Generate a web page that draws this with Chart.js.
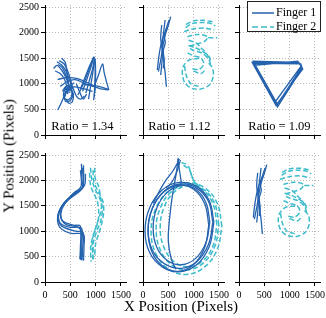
<!DOCTYPE html>
<html>
<head>
<meta charset="utf-8">
<script src="https://cdn.jsdelivr.net/npm/chart.js@4"></script>
<style>
  body { margin: 0; background: #fff; }
  #fig { position: relative; width: 326px; height: 318px; overflow: hidden; font-family: "Liberation Serif", serif; color: #000; }
  #fig canvas { position: absolute; }
  .ratio { position: absolute; top: 120px; font-size: 12.5px; line-height: 13px;
           background: #fff; padding: 0 2px; transform: translateX(-50%); white-space: nowrap; z-index: 5; }
  #legend { position: absolute; left: 247px; top: 1px; width: 72px; height: 29px; border: 1px solid #222;
            background: #fff; z-index: 6; font-size: 12px; }
  #legend .row { position: absolute; left: 4px; height: 14px; line-height: 14px; white-space: nowrap; }
  #legend svg { vertical-align: middle; margin-right: 2px; }
  .title { position: absolute; font-size: 15px; white-space: nowrap; z-index: 5; }
</style>
</head>
<body>
<div id="fig">
  <canvas id="c1"></canvas><canvas id="c2"></canvas><canvas id="c3"></canvas>
  <canvas id="c4"></canvas><canvas id="c5"></canvas><canvas id="c6"></canvas>
  <div id="legend"></div>
  <div class="title" id="ytitle"></div>
  <div class="title" id="xtitle"></div>
</div>
<script>
// axis setup
const xTicks = [0, 500, 1000, 1500];
const yTicks = [0, 500, 1000, 1500, 2000, 2500];
const xMax = 1600, yMax = 2540;
const fingerNames = ["Finger 1", "Finger 2"];
const ratios = ["1.34", "1.12", "1.09"];
const xTitle = "X Position (Pixels)";
const yTitle = "Y Position (Pixels)";

// panel 1 (top left) - finger 1 only
const p1Blue = [
  [[170,1300],[236,1360],[320,1280],[400,1150],[470,980],[500,870]],
  [[236,1433],[328,1367],[413,1253],[479,1087],[525,953]],
  [[282,1453],[380,1387],[459,1220],[512,1053],[540,900]],
  [[330,1500],[400,1420],[433,1220],[459,1020],[479,820]],
  [[200,1250],[300,1200],[380,1100],[430,950],[450,800]],
  [[260,1380],[350,1300],[420,1150],[470,1000]],
  [[249,487],[301,587],[347,687],[393,787],[479,887],[545,820],[512,687],[413,653],[380,753],[446,920],[577,1020]],
  [[347,853],[413,953],[512,940],[525,753],[446,687],[367,753],[393,900],[480,1000]],
  [[420,700],[470,620],[540,650],[560,800],[500,900],[420,850],[400,750]],
  [[249,1087],[446,1120],[643,1100],[840,1020],[972,953]],
  [[300,950],[450,1050],[600,1080],[800,1000],[950,950],[1100,900],[1250,880]],
  [[380,887],[577,940],[774,900],[939,853]],
  [[500,1050],[560,900],[620,760],[700,700],[780,760]],
  [[742,853],[827,1087],[906,1320],[972,1520],[991,1287],[985,1020],[972,753]],
  [[807,820],[873,1053],[939,1287],[985,1487],[1000,1200],[990,900],[960,680]],
  [[650,780],[760,1000],[860,1250],[930,1450],[960,1530]],
  [[860,700],[900,950],[950,1250],[980,1500]],
  [[700,900],[780,1100],[880,1350],[950,1480]],
  [[620,1000],[680,850],[760,700],[820,800]],
  [[972,953],[1050,1153],[1136,1387],[1169,1220],[1221,1020],[1260,880]],
  [[774,987],[1037,953],[1267,887]]
];

// panel 2 (top middle) and panel 6 (bottom right)
const p2Blue = [
  [[548,2311],[502,2148],[449,1986],[396,1758],[356,1497],[303,1237]],
  [[436,2246],[409,2018],[383,1758],[402,1497],[435,1237],[462,944]],
  [[369,2148],[350,1888],[383,1628],[369,1367],[350,1172]],
  [[515,2246],[449,2051],[369,1823],[317,1562],[283,1270]],
  [[480,2100],[420,1950],[440,1800],[400,1650],[420,1450],[400,1300]]
];
const p2Cyan = [
  [[845,2100],[978,2180],[1176,2200],[1341,2180],[1427,2130]],
  [[850,2160],[1000,2230],[1200,2240],[1380,2210]],
  [[812,2020],[978,2070],[1209,2090],[1407,2050]],
  [[878,1921],[1077,1966],[1275,1921],[1209,1823],[1044,1771],[911,1725],[978,1660],[1176,1595],[1308,1465],[1341,1335]],
  [[1110,1497],[911,1465],[792,1335],[779,1172],[832,1009],[964,912],[1143,898],[1308,977],[1387,1140],[1374,1302],[1275,1432]],
  [[900,1850],[1050,1800],[1150,1700],[1250,1600],[1300,1500]],
  [[900,1750],[1050,1700],[1200,1620],[1300,1540],[1350,1420]],
  [[1290,1900],[1470,1900]],
  [[880,1600],[1000,1550],[1150,1500],[1200,1380],[1100,1280],[950,1300]],
  [[820,1350],[860,1150],[950,1000],[1100,950]],
  [[1000,1250],[1150,1200],[1250,1300]]
];

// panel 3 (top right) - triangle
const p3Blue = [
  [[300,1400],[1220,1390],[1240,1330],[760,600],[280,1440],[1180,1420],[1260,1290],[730,580],[260,1420],
   [1200,1400],[1230,1350],[710,640],[300,1360],[1160,1440],[1250,1310],[760,550],[290,1410]]
];

// panel 4 (bottom left)
const p4Blue = [
  [[720,2330],[730,2000],[740,1850],[560,1720],[380,1560],[270,1350],[300,1160],[480,1080],[720,1060],[730,800],[720,430]],
  [[760,2300],[760,1950],[700,1800],[500,1650],[330,1480],[250,1300],[290,1080],[500,960],[760,940],[770,700],[760,420]],
  [[700,2200],[710,1880],[520,1700],[350,1520],[300,1380],[350,1200],[550,1120],[700,1100],[700,700],[690,450]],
  [[800,2130],[780,1900],[620,1760],[420,1600],[300,1430],[260,1250],[330,1100],[600,1000],[750,980],[740,600],[730,430]],
  [[740,2250],[750,1860],[600,1780],[450,1620],[330,1420],[320,1250],[420,1130],[650,1080],[710,1000],[700,440]]
];
const p4Cyan = [
  [[900,2250],[920,2050],[980,1850],[1080,1650],[1130,1450],[1100,1200],[1020,1000],[960,800],[950,600],[940,420]],
  [[950,2200],[960,2000],[1040,1800],[1140,1600],[1160,1400],[1120,1150],[1060,950],[1000,750],[980,500]],
  [[880,2150],[900,1900],[960,1750],[1030,1600],[1060,1400],[1050,1200],[980,1000],[920,800],[900,600],[910,400]],
  [[980,2250],[990,2050],[1060,1880],[1100,1650],[1120,1500],[1080,1300],[1010,1100],[950,900],[930,700],[960,450]]
];

// panel 5 (bottom middle) - ovals
const p5Blue = [
  [[1400,1180],[1309,1600],[1060,1882],[720,1960],[380,1812],[131,1460],[40,1000],[131,580],[380,298],[720,200],[1060,338],[1309,700],[1400,1180]],
  [[1380,1180],[1294,1585],[1060,1849],[740,1930],[420,1789],[186,1455],[100,1030],[186,625],[420,361],[740,270],[1060,401],[1294,745],[1380,1180]],
  [[1300,1120],[1220,1535],[1000,1826],[700,1910],[400,1766],[180,1435],[100,1000],[180,585],[400,304],[700,210],[1000,344],[1220,685],[1300,1120]],
  [[1320,1180],[1245,1560],[1040,1825],[760,1900],[480,1765],[275,1460],[200,1060],[275,680],[480,425],[760,340],[1040,465],[1245,780],[1320,1180]],
  [[720,2420],[600,2200],[450,2000],[330,1800],[200,1550]],
  [[700,2440],[650,2100],[580,1700],[520,1200],[500,800],[560,450],[650,250]],
  [[740,2400],[660,2150],[560,1950],[450,1850]],
  [[690,2430],[720,2200],[760,1950]]
];
const p5Cyan = [
  [[1560,1100],[1466,1550],[1210,1859],[860,1950],[510,1799],[254,1450],[160,1000],[254,560],[510,251],[860,150],[1210,291],[1466,640],[1560,1100]],
  [[1500,1120],[1417,1540],[1190,1827],[880,1920],[570,1787],[343,1460],[260,1040],[343,630],[570,333],[880,240],[1190,373],[1417,700],[1500,1120]],
  [[1460,1130],[1385,1530],[1180,1813],[900,1900],[620,1773],[415,1470],[340,1070],[415,680],[620,397],[900,300],[1180,417],[1385,720],[1460,1130]],
  [[760,2350],[880,2300],[960,2100],[1050,1900]],
  [[800,2300],[920,2200],[1000,2000],[1150,1850]]
];

const BLUE = "#2462ae", CYAN = "#3ebccb";
const YW = 44, PT = 10, PR = 10, XH = 20, PW = 81;
const colLeft = [45, 143, 239];
const rowTop = [5, 153], rowH = [130, 129];

function toPts(stroke) {
  return stroke.map(p => ({ x: p[0], y: p[1] }));
}

function makePanel(id, col, row, blue, cyan, tension) {
  const el = document.getElementById(id);
  const w = YW + PW + PR, h = PT + rowH[row] + XH;
  el.width = w; el.height = h;
  el.style.left = (colLeft[col] - YW) + "px";
  el.style.top = (rowTop[row] - PT) + "px";

  const datasets = [];
  blue.forEach(s => datasets.push({
    data: toPts(s), showLine: true, borderColor: BLUE, borderWidth: 1.3,
    pointRadius: 0, tension: tension, fill: false
  }));
  (cyan || []).forEach(s => datasets.push({
    data: toPts(s), showLine: true, borderColor: CYAN, borderWidth: 1.5, borderDash: [5, 2.5],
    pointRadius: 0, tension: tension, fill: false
  }));

  const gridOpts = { color: "#b8b8b8", lineWidth: 1, tickColor: "#000", tickLength: 4, tickWidth: 1 };
  const border = { display: true, color: "#000", width: 1, dash: [1, 2] };
  const font = { family: "Liberation Serif", size: 10 };

  new Chart(el, {
    type: "scatter",
    data: { datasets },
    options: {
      responsive: false, animation: false, events: [],
      layout: { padding: { top: PT, right: PR, left: 0, bottom: 0 } },
      plugins: { legend: { display: false }, tooltip: { enabled: false } },
      scales: {
        x: {
          type: "linear", min: 0, max: xMax,
          grid: gridOpts, border: border,
          ticks: { display: row === 1, font, color: "#000", padding: 3, includeBounds: false, callback: v => String(v) },
          afterBuildTicks: s => { s.ticks = xTicks.map(v => ({ value: v })); },
          afterFit: s => { s.height = XH; }
        },
        y: {
          type: "linear", min: 0, max: yMax,
          grid: gridOpts, border: border,
          ticks: { display: col === 0, font, color: "#000", padding: 2, includeBounds: false, callback: v => String(v) },
          afterBuildTicks: s => { s.ticks = yTicks.map(v => ({ value: v })); },
          afterFit: s => { s.width = YW; }
        }
      }
    }
  });
}

makePanel("c1", 0, 0, p1Blue, null, 0.3);
makePanel("c2", 1, 0, p2Blue, p2Cyan, 0.3);
makePanel("c3", 2, 0, p3Blue, null, 0);
makePanel("c4", 0, 1, p4Blue, p4Cyan, 0.3);
makePanel("c5", 1, 1, p5Blue, p5Cyan, 0.4);
makePanel("c6", 2, 1, p2Blue, p2Cyan, 0.3);

// ratio labels
const fig = document.getElementById("fig");
const ratioX = [82.5, 179.5, 279.5];
ratios.forEach((r, i) => {
  const d = document.createElement("div");
  d.className = "ratio";
  d.style.left = ratioX[i] + "px";
  d.textContent = "Ratio = " + r;
  fig.appendChild(d);
});

// legend
const legend = document.getElementById("legend");
fingerNames.forEach((name, i) => {
  const row = document.createElement("div");
  row.className = "row";
  row.style.top = (3 + i * 14) + "px";
  const col = i === 0 ? BLUE : CYAN;
  const dash = i === 0 ? "" : ' stroke-dasharray="6 3"';
  row.innerHTML = '<svg width="22" height="6"><line x1="0" y1="3" x2="22" y2="3" stroke="' + col +
    '" stroke-width="1.5"' + dash + '/></svg>' + name;
  legend.appendChild(row);
});

// axis titles
const yt = document.getElementById("ytitle");
yt.textContent = yTitle;
yt.style.left = "9px"; yt.style.top = "156px";
yt.style.transform = "translate(-50%,-50%) rotate(-90deg)";
const xt = document.getElementById("xtitle");
xt.textContent = xTitle;
xt.style.left = "181px"; xt.style.top = "306px";
xt.style.transform = "translate(-50%,-50%)";
</script>
</body>
</html>
